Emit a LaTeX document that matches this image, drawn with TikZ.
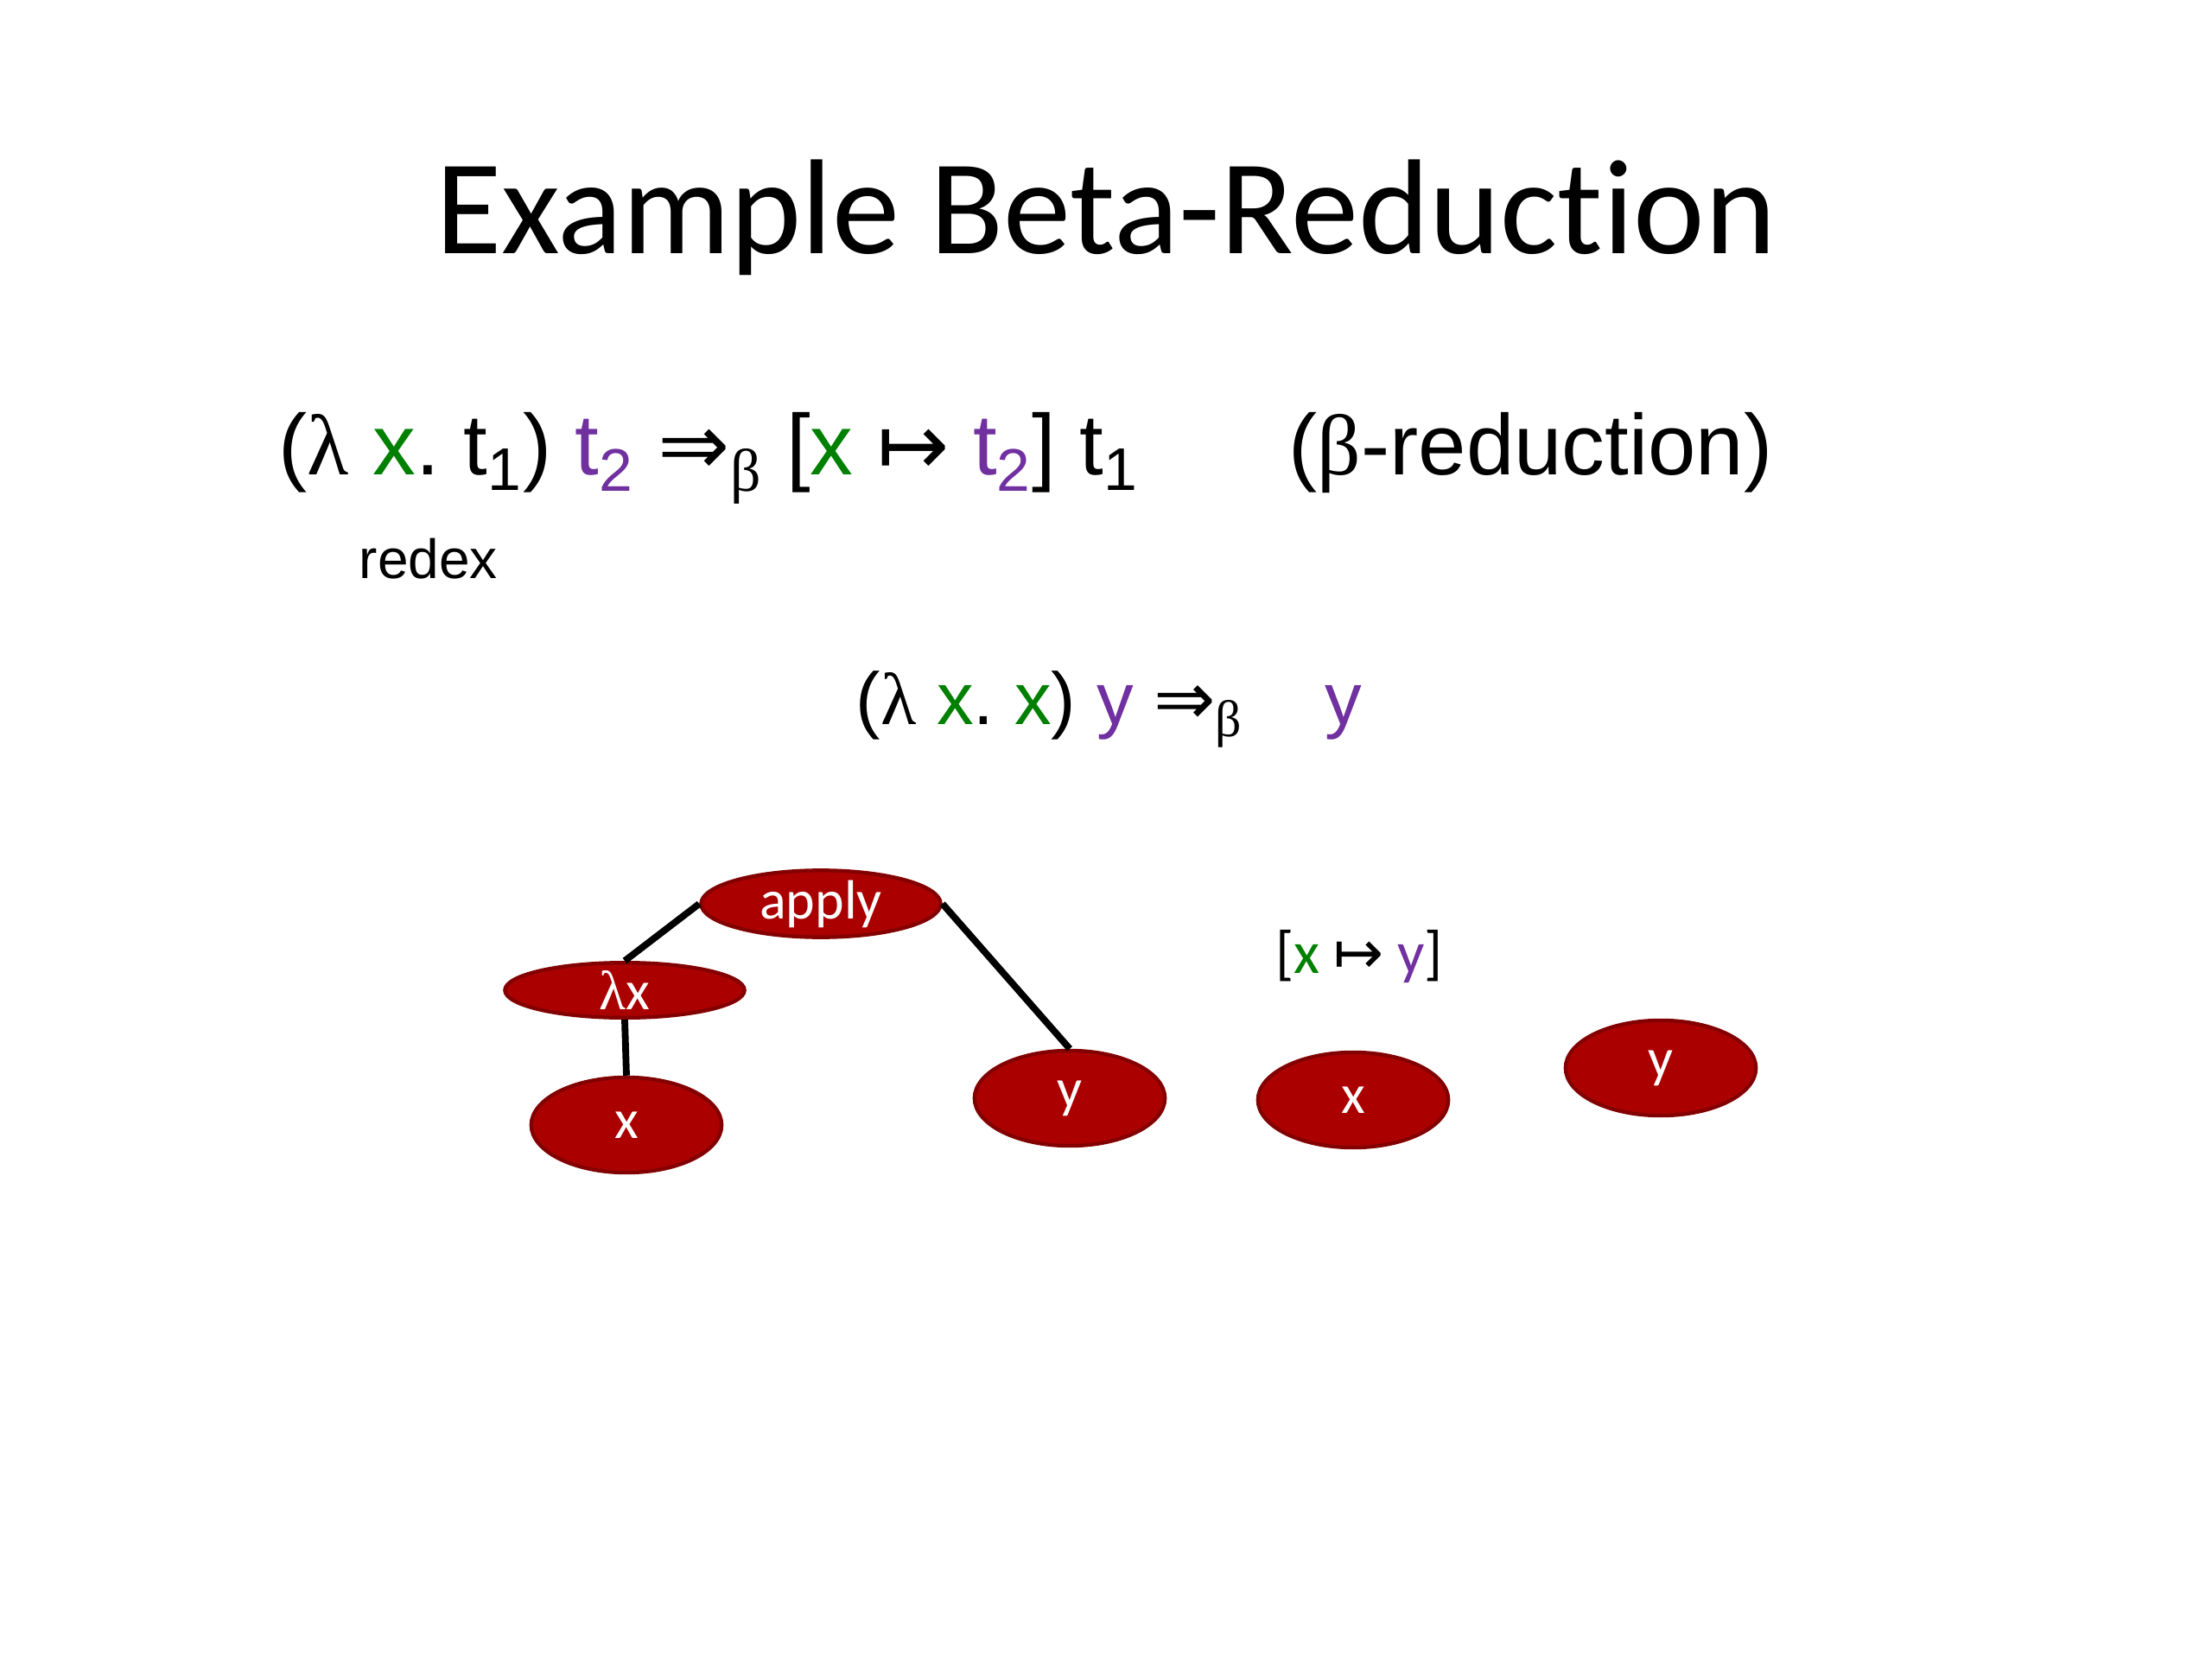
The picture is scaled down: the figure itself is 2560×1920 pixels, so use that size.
\documentclass[tikz,border=0pt]{standalone}
\usepackage{fontspec}
\setmainfont{Liberation Sans}
\newfontfamily\carlito[Ligatures=NoCommon]{Carlito}
\newfontfamily\greekfont{Liberation Serif}
\newfontfamily\arrowfont{DejaVu Sans}
\usetikzlibrary{shapes.geometric}
\definecolor{grn}{RGB}{0,128,0}
\definecolor{prp}{RGB}{112,48,160}
\definecolor{nodefill}{RGB}{170,0,0}
\definecolor{nodeedge}{RGB}{130,0,0}
\newcommand\lam{{\greekfont λ}}
\newcommand\bet{{\greekfont β}}
\newcommand\darr{{\arrowfont ⇒}}
\newcommand\marr{{\arrowfont ↦}}
\frenchspacing
\tikzset{
  txt/.style={inner sep=0pt, anchor=base west},
  treenode/.style={ellipse, fill=nodefill, draw=nodeedge, line width=1.2pt,
    text=white, font=\carlito\fontsize{18}{22}\selectfont, inner sep=0pt},
  wide/.style={treenode, minimum width=78pt, minimum height=16pt},
  round/.style={treenode, minimum width=62pt, minimum height=31pt},
  edge/.style={line width=2.2pt, black}
}
\begin{document}
\begin{tikzpicture}[x=0.28125pt, y=-0.28125pt]
\fill[white] (0,0) rectangle (2560,1920);
\useasboundingbox (0,0) rectangle (2560,1920);
% title
\node[inner sep=0pt, anchor=base, font=\carlito\fontsize{44}{52}\selectfont] (title) at (1280,294) {Example Beta-Reduction};
% rule
\node[txt, font=\fontsize{28}{34}\selectfont] (rule) at (322,550)
  {(\lam{} \textcolor{grn}{x}. t\textsubscript{1}) \textcolor{prp}{t\textsubscript{2}} \darr\textsubscript{\bet} [\textcolor{grn}{x} \marr{} \textcolor{prp}{t\textsubscript{2}}] t\textsubscript{1}};
\node[txt, font=\fontsize{28}{34}\selectfont] (rulename) at (1491,550) {(\bet-reduction)};
\node[txt, font=\fontsize{18}{22}\selectfont] (redex) at (415,670) {redex};
% example
\node[txt, font=\fontsize{24}{29}\selectfont] (example) at (990,839)
  {(\lam{} \textcolor{grn}{x}. \textcolor{grn}{x}) \textcolor{prp}{y} \darr\textsubscript{\bet}\hspace{1.1em}\textcolor{prp}{y}};
% substitution label
\node[txt, font=\carlito\fontsize{19.5}{24}\selectfont] (subst) at (1476,1126)
  {[\textcolor{grn}{x} \marr{} \textcolor{prp}{y}]};
% tree
\node[wide] (apply) at (950,1046) {apply};
\node[wide] (lamx) at (723,1146) {\lam x};
\node[round] (x1) at (725,1302) {x};
\node[round] (y1) at (1238,1271) {y};
\node[round] (x2) at (1566,1273) {x};
\node[round] (y2) at (1922,1236) {y};
\draw[edge] (apply.west) -- (lamx.north);
\draw[edge] (apply.east) -- (y1.north);
\draw[edge] (lamx.south) -- (x1.north);
\end{tikzpicture}
\end{document}
